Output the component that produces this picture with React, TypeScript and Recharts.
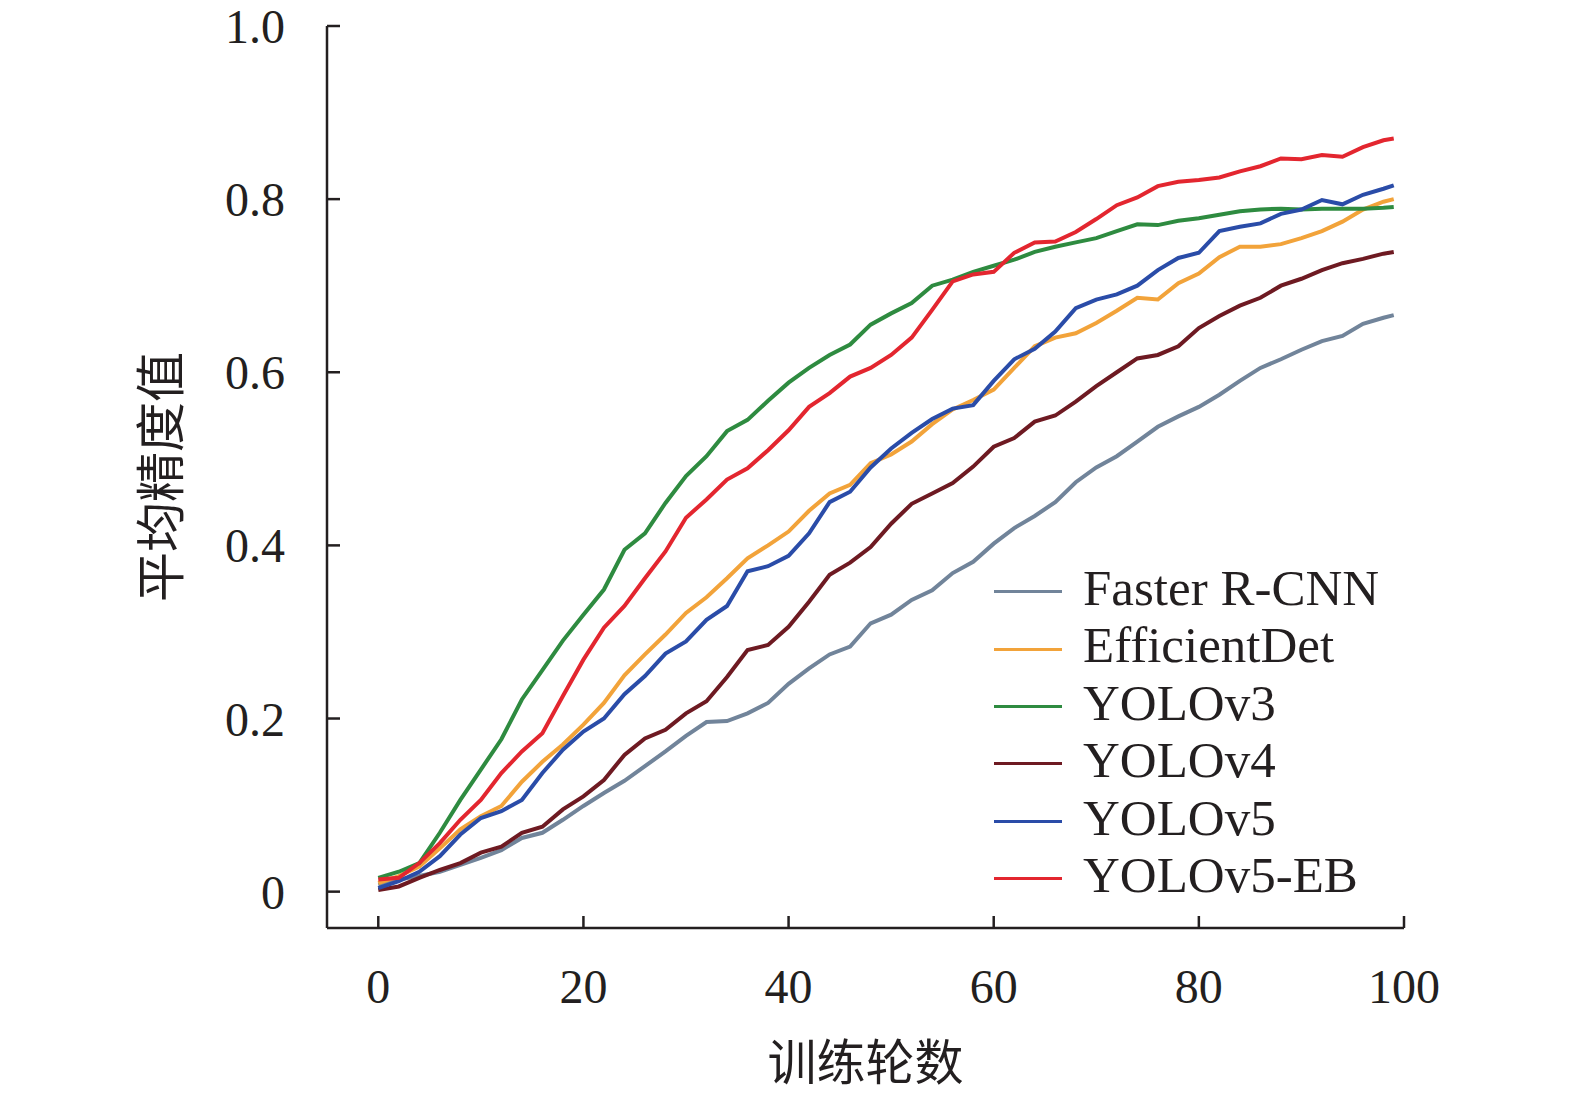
import { LineChart, Line, XAxis, YAxis, Legend } from 'recharts';

// training epochs (x values)
const epochs = [
  0, 2, 4, 6, 8, 10, 12, 14, 16, 18, 20, 22, 24, 26, 28, 30, 32, 34, 36, 38,
  40, 42, 44, 46, 48, 50, 52, 54, 56, 58, 60, 62, 64, 66, 68, 70, 72, 74, 76, 78,
  80, 82, 84, 86, 88, 90, 92, 94, 96, 98, 99,
];

// mAP per model
const fasterRcnn = [
  0.008, 0.014, 0.018, 0.023, 0.031, 0.039, 0.048, 0.062, 0.068, 0.083,
  0.099, 0.114, 0.128, 0.145, 0.162, 0.180, 0.196, 0.197, 0.206, 0.218,
  0.240, 0.258, 0.274, 0.283, 0.310, 0.320, 0.337, 0.348, 0.368, 0.381,
  0.402, 0.420, 0.434, 0.450, 0.473, 0.490, 0.503, 0.520, 0.537, 0.549,
  0.560, 0.574, 0.590, 0.605, 0.615, 0.626, 0.636, 0.642, 0.656, 0.663, 0.666,
];
const efficientDet = [
  0.010, 0.018, 0.029, 0.050, 0.072, 0.087, 0.099, 0.127, 0.150, 0.170,
  0.193, 0.218, 0.250, 0.274, 0.297, 0.322, 0.340, 0.362, 0.385, 0.400,
  0.416, 0.440, 0.460, 0.470, 0.495, 0.505, 0.520, 0.540, 0.557, 0.568,
  0.580, 0.605, 0.630, 0.640, 0.645, 0.657, 0.671, 0.686, 0.684, 0.703,
  0.714, 0.733, 0.745, 0.745, 0.748, 0.755, 0.763, 0.774, 0.788, 0.797, 0.800,
];
const yolov3 = [
  0.016, 0.023, 0.033, 0.068, 0.106, 0.141, 0.176, 0.222, 0.256, 0.290,
  0.320, 0.349, 0.395, 0.414, 0.449, 0.480, 0.503, 0.532, 0.545, 0.567,
  0.588, 0.605, 0.620, 0.632, 0.655, 0.668, 0.680, 0.700, 0.707, 0.716,
  0.723, 0.730, 0.739, 0.745, 0.750, 0.755, 0.763, 0.771, 0.770, 0.775,
  0.778, 0.782, 0.786, 0.788, 0.789, 0.788, 0.789, 0.789, 0.789, 0.790, 0.791,
];
const yolov4 = [
  0.002, 0.006, 0.016, 0.025, 0.033, 0.045, 0.052, 0.068, 0.075, 0.095,
  0.110, 0.129, 0.158, 0.177, 0.187, 0.206, 0.220, 0.248, 0.279, 0.285,
  0.306, 0.335, 0.366, 0.380, 0.398, 0.425, 0.448, 0.460, 0.472, 0.491,
  0.514, 0.524, 0.543, 0.550, 0.566, 0.584, 0.600, 0.616, 0.620, 0.630,
  0.651, 0.665, 0.677, 0.686, 0.700, 0.708, 0.718, 0.726, 0.731, 0.737, 0.739,
];
const yolov5 = [
  0.004, 0.012, 0.023, 0.041, 0.066, 0.085, 0.093, 0.106, 0.137, 0.164,
  0.185, 0.200, 0.228, 0.249, 0.275, 0.289, 0.314, 0.330, 0.370, 0.376,
  0.388, 0.414, 0.450, 0.462, 0.490, 0.512, 0.530, 0.546, 0.558, 0.562,
  0.590, 0.615, 0.627, 0.647, 0.674, 0.684, 0.690, 0.700, 0.718, 0.732,
  0.738, 0.763, 0.768, 0.772, 0.783, 0.788, 0.799, 0.794, 0.805, 0.812, 0.816,
];
const yolov5eb = [
  0.014, 0.016, 0.033, 0.056, 0.083, 0.106, 0.137, 0.162, 0.183, 0.226,
  0.268, 0.305, 0.330, 0.362, 0.393, 0.432, 0.453, 0.476, 0.489, 0.510,
  0.533, 0.560, 0.576, 0.595, 0.605, 0.620, 0.640, 0.672, 0.705, 0.713,
  0.716, 0.738, 0.750, 0.751, 0.762, 0.777, 0.793, 0.802, 0.815, 0.820,
  0.822, 0.825, 0.832, 0.838, 0.847, 0.846, 0.851, 0.849, 0.860, 0.868, 0.870,
];

const xTicks = [0, 20, 40, 60, 80, 100];
const yTicks = [0, 0.2, 0.4, 0.6, 0.8, 1.0];

const series = [
  { key: 'fasterRcnn', name: 'Faster R-CNN', values: fasterRcnn, color: '#71849a' },
  { key: 'efficientDet', name: 'EfficientDet', values: efficientDet, color: '#f2a33a' },
  { key: 'yolov3', name: 'YOLOv3', values: yolov3, color: '#2e8b40' },
  { key: 'yolov4', name: 'YOLOv4', values: yolov4, color: '#6e1a22' },
  { key: 'yolov5', name: 'YOLOv5', values: yolov5, color: '#2a4ca8' },
  { key: 'yolov5eb', name: 'YOLOv5-EB', values: yolov5eb, color: '#e3262f' },
];

const data = epochs.map((epoch, i) => {
  const row: Record<string, number> = { epoch };
  series.forEach((s) => { row[s.key] = s.values[i]; });
  return row;
});

const INK = '#231f20';
const SERIF = '"Liberation Serif", "Times New Roman", serif';
const CJK = '"Noto Sans CJK SC", sans-serif';

const fmtY = (v: number) => (v === 0 ? '0' : v.toFixed(1));

// ticks point inwards, labels sit outside
const YTick = ({ x, y, payload }: any) => (
  <g>
    <line x1={x} x2={x + 13} y1={y} y2={y} stroke={INK} strokeWidth={2.5} />
    <text x={x - 42} y={y + 17} textAnchor="end" fontSize={48} fontFamily={SERIF} fill={INK}>
      {fmtY(payload.value)}
    </text>
  </g>
);

const XTick = ({ x, y, payload }: any) => (
  <g>
    <line x1={x} x2={x} y1={y} y2={y - 12} stroke={INK} strokeWidth={2.5} />
    <text x={x} y={y + 75} textAnchor="middle" fontSize={48} fontFamily={SERIF} fill={INK}>
      {payload.value}
    </text>
  </g>
);

const YTitle = ({ viewBox }: any) => {
  const cx = viewBox.x + viewBox.width - 170;
  const cy = viewBox.y + viewBox.height / 2;
  return (
    <text x={cx} y={cy} transform={`rotate(-90 ${cx} ${cy})`} textAnchor="middle"
      dominantBaseline="central" fontSize={50} fontFamily={CJK} fill={INK}>
      平均精度值
    </text>
  );
};

const XTitle = ({ viewBox }: any) => {
  const cx = viewBox.x + viewBox.width / 2;
  const cy = viewBox.y + 130;
  return (
    <text x={cx} y={cy} textAnchor="middle" dominantBaseline="central"
      fontSize={49} fontFamily={CJK} fill={INK}>
      训练轮数
    </text>
  );
};

const LegendBox = () => (
  <div>
    {series.map((s) => (
      <div key={s.key} style={{ display: 'flex', alignItems: 'center', height: 57.4 }}>
        <div style={{ width: 68, height: 3, marginTop: 6, background: s.color }} />
        <span style={{ marginLeft: 21, fontSize: 51, lineHeight: '57.4px', fontFamily: SERIF, color: INK, whiteSpace: 'nowrap' }}>
          {s.name}
        </span>
      </div>
    ))}
  </div>
);

export default function App() {
  return (
    <div style={{ position: 'absolute', left: 0, top: 0, width: 1575, height: 1094, background: '#fff' }}>
      <LineChart width={1575} height={1094} data={data}
        margin={{ top: 26, right: 171, bottom: 106, left: 227 }}>
        <XAxis
          dataKey="epoch"
          type="number"
          domain={[-5, 100]}
          ticks={xTicks}
          allowDataOverflow
          height={60}
          tickSize={0}
          tickMargin={0}
          tickLine={false}
          tick={<XTick />}
          axisLine={{ stroke: INK, strokeWidth: 2.5 }}
          label={{ content: <XTitle /> }}
        />
        <YAxis
          type="number"
          domain={[-0.042, 1]}
          ticks={yTicks}
          allowDataOverflow
          width={100}
          tickSize={0}
          tickMargin={0}
          tickLine={false}
          tick={<YTick />}
          axisLine={{ stroke: INK, strokeWidth: 2.5 }}
          label={{ content: <YTitle /> }}
        />
        <Legend
          layout="vertical"
          align="center"
          verticalAlign="middle"
          content={<LegendBox />}
          wrapperStyle={{ left: 994, top: 560, width: 420 }}
        />
        {series.map((s) => (
          <Line
            key={s.key}
            type="linear"
            dataKey={s.key}
            name={s.name}
            stroke={s.color}
            strokeWidth={4}
            dot={false}
            activeDot={false}
            isAnimationActive={false}
          />
        ))}
      </LineChart>
    </div>
  );
}
